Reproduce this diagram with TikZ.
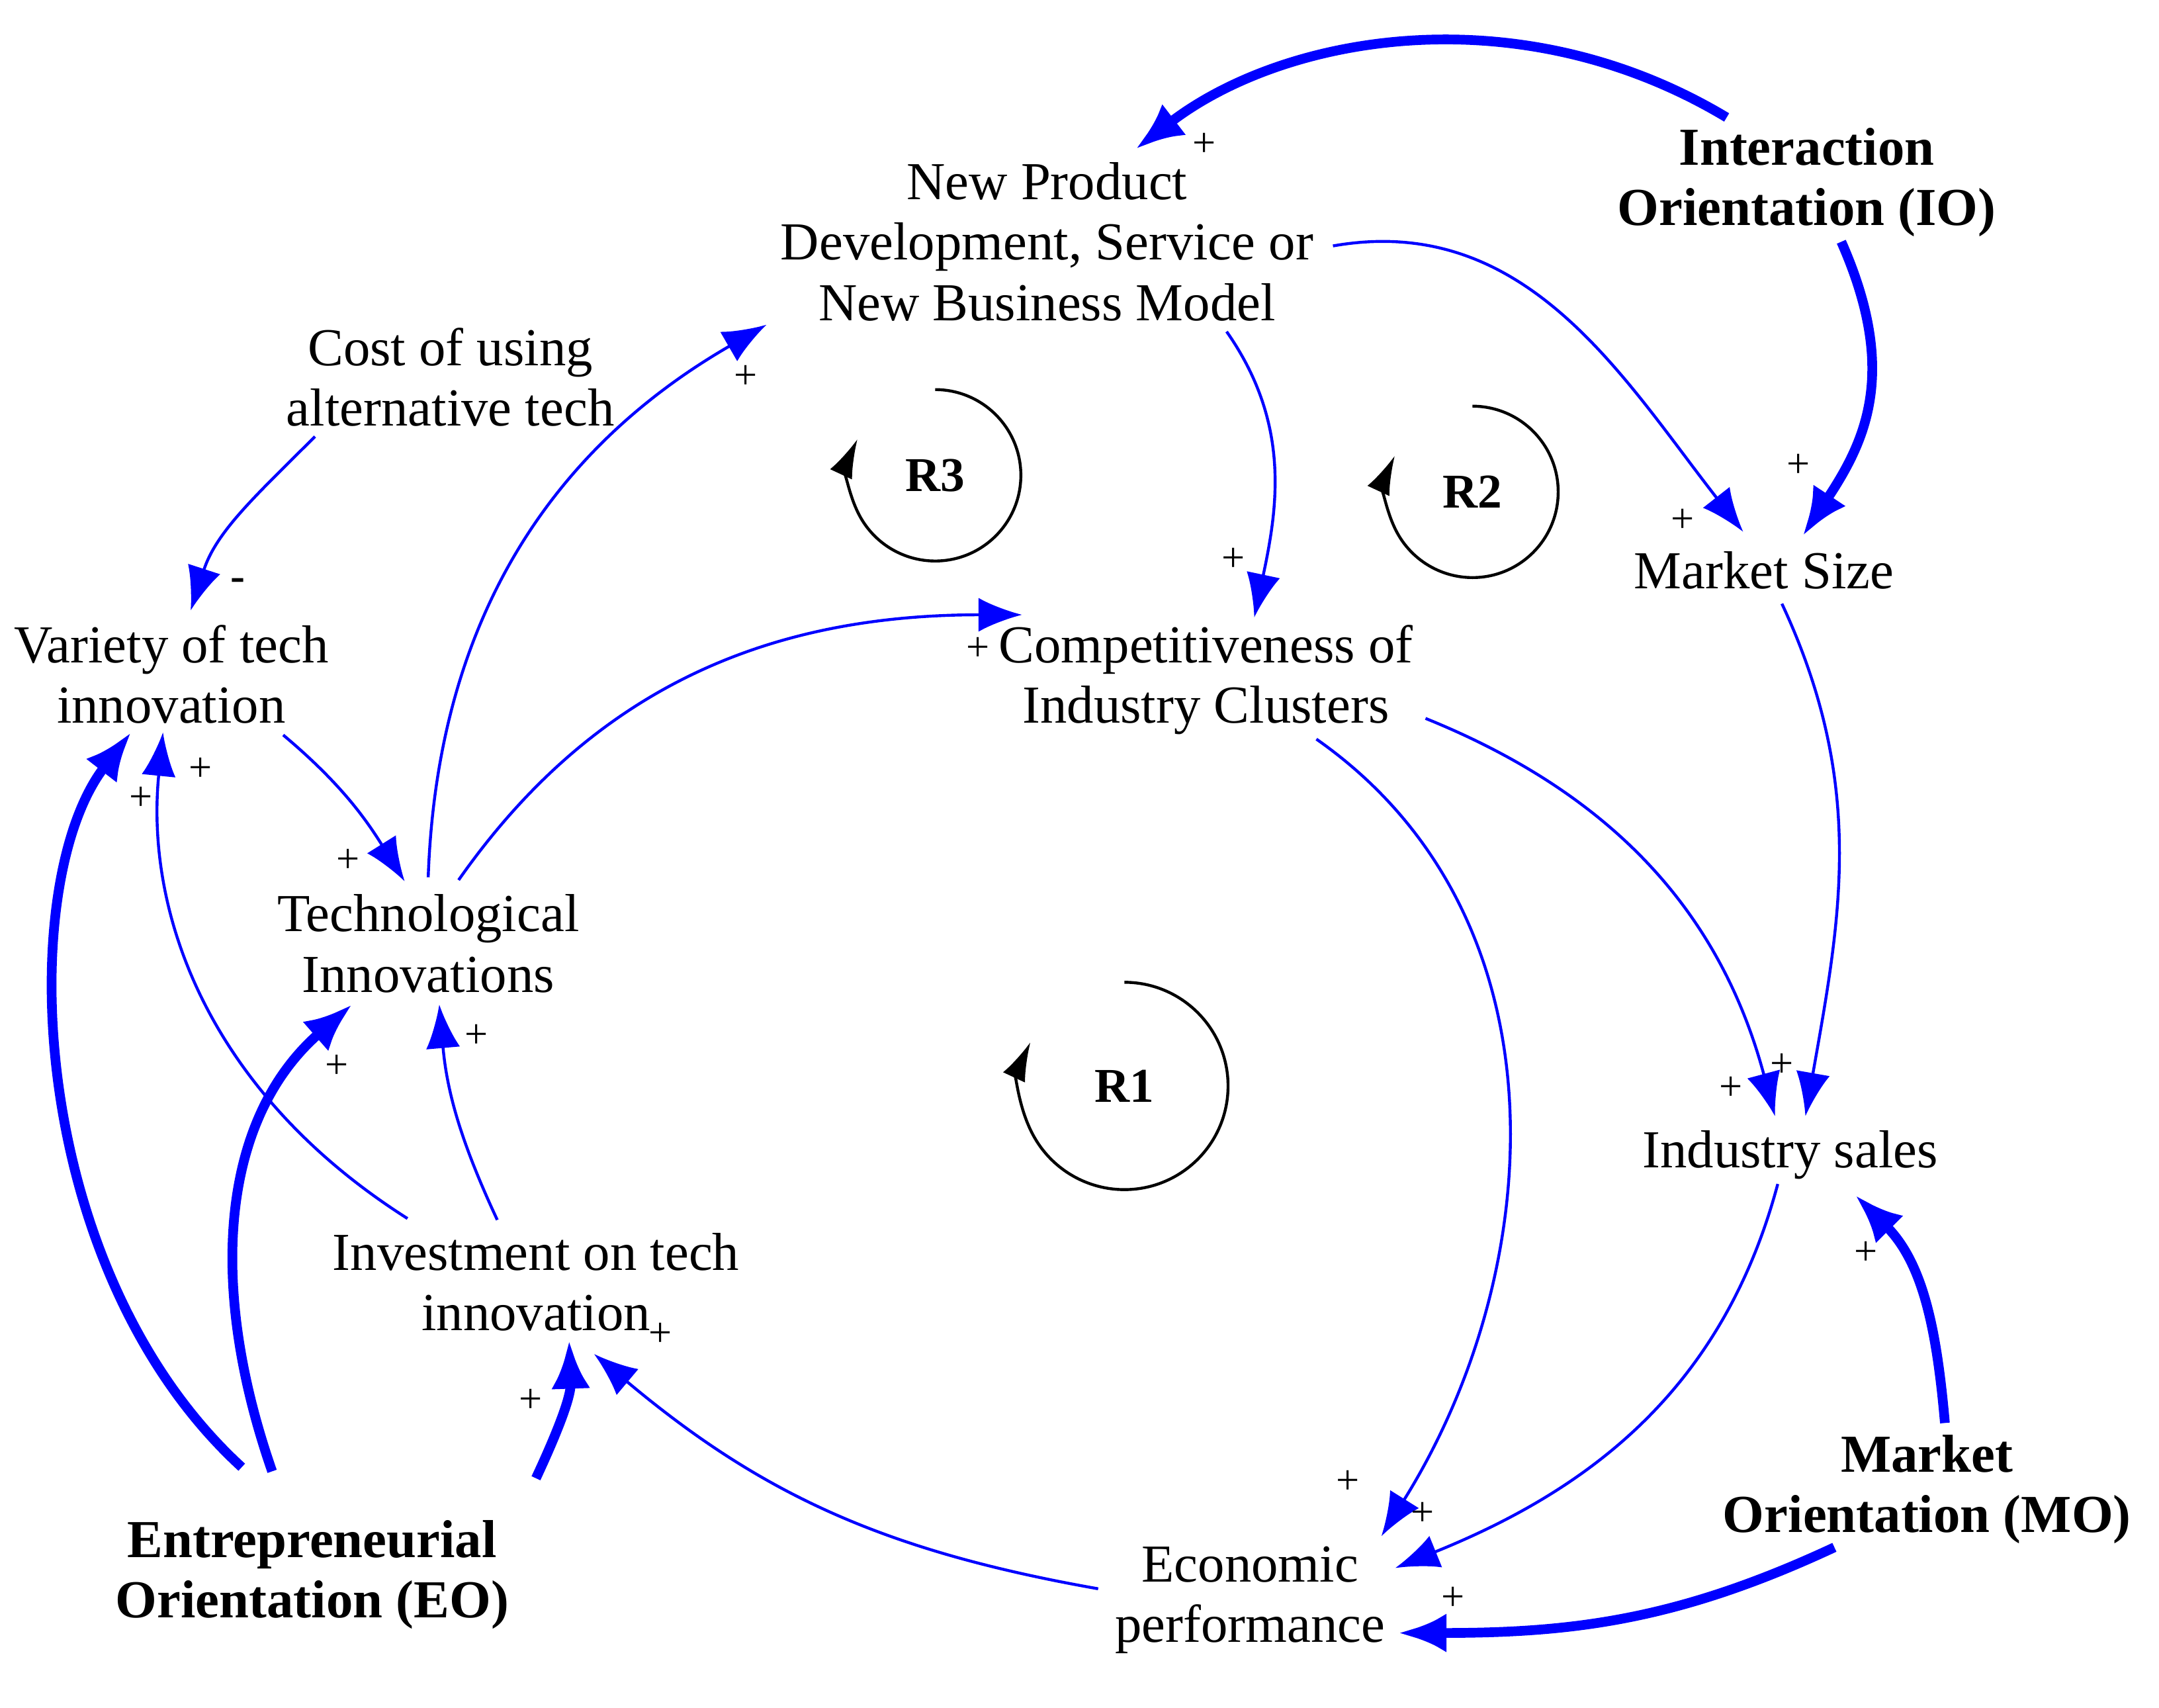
\documentclass[tikz,border=0pt]{standalone}
\usepackage{fontspec}
\setmainfont{Liberation Serif}
\usetikzlibrary{arrows.meta}
\begin{document}
\begin{tikzpicture}[x=0.01cm,y=-0.01cm,
  lbl/.style={align=center,font=\fontsize{11}{12.4}\selectfont,inner sep=0pt},
  blbl/.style={lbl,font=\fontsize{11}{12.4}\selectfont\bfseries},
  pl/.style={font=\fontsize{8.5}{9}\selectfont,inner sep=0pt},
  thin/.style={draw=blue,line width=0.6pt,-{Latex[length=9pt,width=7pt]}},
  thick/.style={draw=blue,line width=2pt,-{Latex[length=10pt,width=8pt]}},
  loop/.style={draw=black,line width=0.6pt,-{Latex[length=8pt,width=5pt]}}]
\useasboundingbox (0,0) rectangle (1563,1236);
\node[lbl] (npd) at (758,175) {New Product\\Development, Service or\\New Business Model};
\node[blbl] (io) at (1308,132) {Interaction\\Orientation (IO)};
\node[lbl] (cost) at (326,273) {Cost of using\\alternative tech};
\node[lbl] (var) at (124,488) {Variety of tech\\innovation};
\node[lbl] (tech) at (310,683) {Technological\\Innovations};
\node[lbl] (cic) at (873,492) {Competitiveness of\\Industry Clusters};
\node[lbl] (ms) at (1277,413) {Market Size};
\node[lbl] (is) at (1296,836) {Industry sales};
\node[lbl] (inv) at (388,928) {Investment on tech\\innovation};
\node[blbl] (eo) at (226,1140) {Entrepreneurial\\Orientation (EO)};
\node[blbl] (mo) at (1395,1078) {Market\\Orientation (MO)};
\node[lbl] (econ) at (905,1158) {Economic\\performance};

\draw[thick] (1250,85) .. controls (1100,-5) and (930,25) .. (822,108);
\draw[thick] (1333,175) .. controls (1375,270) and (1350,320) .. (1305,388);
\draw[thin] (965,178) to[out=10,in=128] (1262,385);
\draw[thin] (888,240) to[out=-55,in=78] (908,447);
\draw[thin] (228,316) to[out=-135,in=72] (138,442);
\draw[thin] (205,532) to[out=-40,in=122] (293,638);
\draw[thin] (310,635) to[out=88,in=-150] (555,235);
\draw[thin] (332,637) to[out=55,in=180] (740,445);
\draw[thin] (953,535) to[out=-35,in=58] (1000,1112);
\draw[thin] (1032,520) to[out=-22,in=105] (1285,808);
\draw[thin] (1290,437) to[out=-65,in=80] (1307,808);
\draw[thin] (1287,857) to[out=-105,in=22] (1010,1135);
\draw[thick] (1408,1030) to[out=95,in=-45] (1343,865);
\draw[thick] (1328,1120) to[out=-155,in=0] (1012,1182);
\draw[thin] (795,1150) to[out=170,in=-40] (430,980);
\draw[thin] (360,883) to[out=115,in=-85] (318,727);
\draw[thin] (295,882) .. controls (150,790) and (105,660) .. (118,530);
\draw[thick] (175,1062) .. controls (20,920) and (10,640) .. (95,530);
\draw[thick] (197,1065) .. controls (150,930) and (160,810) .. (255,727);
\draw[thick] (388,1070) to[out=65,in=-88] (412,970);

\foreach \p in {(872,105),(540,273),(893,405),(1302,337),(1218,377),(708,470),(145,557),(102,578),(252,623),(244,772),(345,750),(478,966),(384,1014),(976,1073),(1030,1096),(1253,788),(1290,771),(1351,907),(1052,1157)}
  \node[pl] at \p {+};
\node[font=\fontsize{9}{9}\selectfont\bfseries,inner sep=0pt] (minus) at (172,423) {-};

\node[font=\fontsize{10}{10}\selectfont\bfseries] (r3) at (677,344) {R3};
\node[font=\fontsize{10}{10}\selectfont\bfseries] (r2) at (1066,356) {R2};
\node[font=\fontsize{10}{10}\selectfont\bfseries] (r1) at (814,786) {R1};
\draw[loop] (r3.center) ++(0,-62) arc[start angle=90,end angle=-205,radius=0.62cm];
\draw[loop] (r2.center) ++(0,-62) arc[start angle=90,end angle=-205,radius=0.62cm];
\draw[loop] (r1.center) ++(0,-75) arc[start angle=90,end angle=-205,radius=0.75cm];
\end{tikzpicture}
\end{document}
